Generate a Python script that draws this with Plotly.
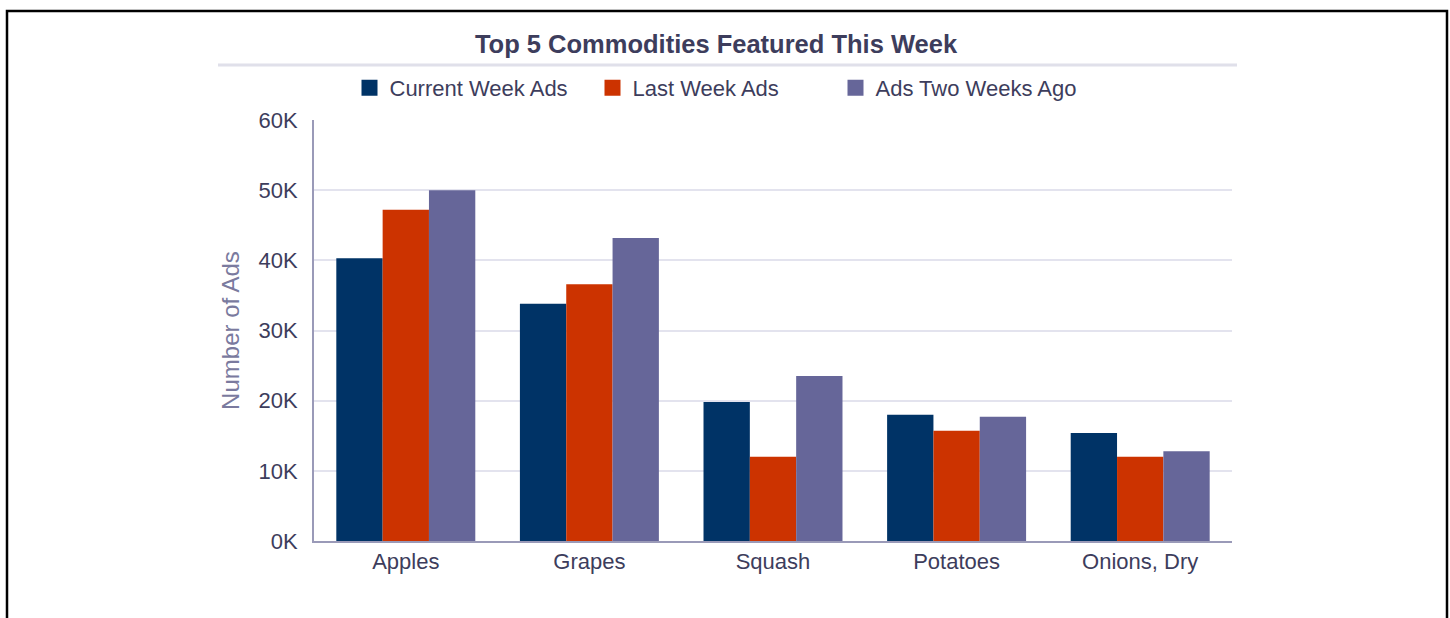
import plotly.graph_objects as go

categories = ["Apples", "Grapes", "Squash", "Potatoes", "Onions, Dry"]
series_names = ["Current Week Ads", "Last Week Ads", "Ads Two Weeks Ago"]
current_week = [40300, 33800, 19800, 18000, 15400]
last_week = [47200, 36600, 12000, 15700, 12000]
two_weeks_ago = [50000, 43200, 23500, 17700, 12800]
series_values = [current_week, last_week, two_weeks_ago]
colors = ["#003366", "#cc3300", "#666699"]
tick_vals = [0, 10000, 20000, 30000, 40000, 50000, 60000]
tick_text = ["0K", "10K", "20K", "30K", "40K", "50K", "60K"]

W, H = 1450, 618
L, R, T, B = 314, 1232, 120, 541
FONT = "Liberation Sans, Arial, sans-serif"
TEXT = "#3d3d5c"


def px(x):
    return (x - L) / (R - L)


def py(y):
    return (B - y) / (B - T)


fig = go.Figure()
for name, vals, col in zip(series_names, series_values, colors):
    fig.add_trace(go.Bar(x=categories, y=vals, name=name, marker_color=col,
                         marker_line_width=0, showlegend=False))
    fig.add_trace(go.Scatter(x=[None], y=[None], mode="markers", name=name,
                             marker=dict(symbol="square", size=20, color=col),
                             showlegend=True, hoverinfo="skip"))

fig.update_layout(
    width=W, height=H,
    margin=dict(l=L, r=W - R, t=T, b=H - B, pad=0),
    paper_bgcolor="white", plot_bgcolor="white",
    barmode="group", bargap=0.243, bargroupgap=0,
    font=dict(family=FONT, color=TEXT, size=22),
    title=dict(text="<b>Top 5 Commodities Featured This Week</b>",
               x=px(716), xref="paper", xanchor="center",
               y=1 - 44 / H, yref="container", yanchor="middle",
               font=dict(family=FONT, size=25.5, color=TEXT)),
    legend=dict(orientation="h", x=px(714), xanchor="center", y=py(88), yanchor="middle",
                font=dict(family=FONT, size=22, color=TEXT),
                entrywidth=198, itemwidth=30, bgcolor="rgba(0,0,0,0)"),
    xaxis=dict(showgrid=False, showline=True, linecolor="#9a9ab8", linewidth=2,
               ticks="", tickfont=dict(size=22, color=TEXT), fixedrange=True),
    yaxis=dict(range=[0, 60000], tickvals=tick_vals, ticktext=tick_text,
               showgrid=True, gridcolor="#e3e3ee", gridwidth=1.5,
               showline=True, linecolor="#9a9ab8", linewidth=2,
               zeroline=False, ticks="", ticklabelstandoff=10,
               tickfont=dict(size=22, color=TEXT),
               title=dict(text="Number of Ads", standoff=12,
                          font=dict(size=24, color="#7a7a9e"))),
    shapes=[
        dict(type="rect", xref="paper", yref="paper",
             x0=px(7), x1=px(1447), y0=py(660), y1=py(11),
             line=dict(color="black", width=2.5), fillcolor="rgba(0,0,0,0)", layer="above"),
        dict(type="line", xref="paper", yref="paper",
             x0=px(218), x1=px(1237), y0=py(65), y1=py(65),
             line=dict(color="#e0e0ea", width=3)),
    ],
)

fig.write_html("out.html", config={"displayModeBar": False},
               post_script="document.body.style.margin='0px';document.body.style.padding='0px';document.body.style.overflow='hidden';")
